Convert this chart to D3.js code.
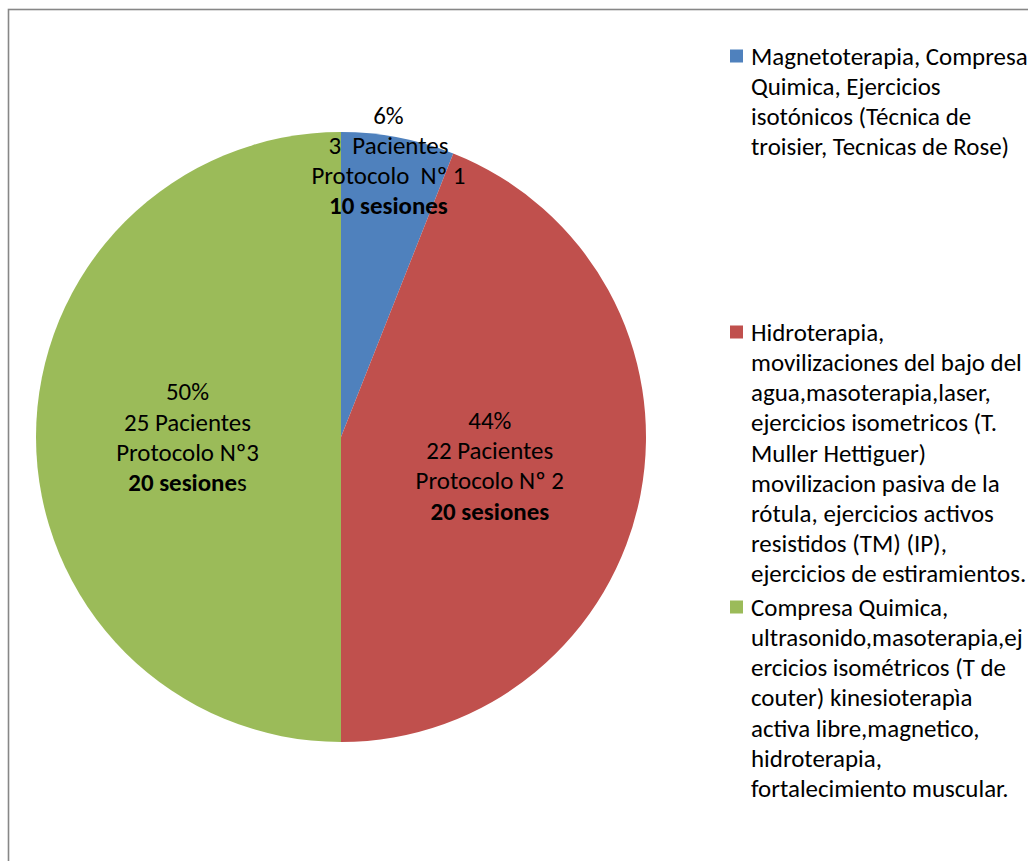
<!DOCTYPE html>
<html><head><meta charset="utf-8">
<script src="https://cdn.jsdelivr.net/npm/d3@7"></script>
<style>
html,body{margin:0;padding:0;background:#fff;}
svg{display:block;}
text{font-family:Carlito,Calibri,Lato,"Open Sans",sans-serif;fill:#000;}
</style></head><body>
<svg id="chart" width="1028" height="861"></svg>
<script>
// ---- data ----
const categories = ["Protocolo Nº 1", "Protocolo Nº 2", "Protocolo Nº3"];
const patients = [3, 22, 25];
const percentLabels = ["6%", "44%", "50%"];
const colors = ["#4F81BD", "#C0504D", "#9BBB59"];
const labelLines = [
  [["6%"], ["3  Pacientes"], ["Protocolo  Nº 1"], [["10 sesiones", true]]],
  [["44%"], ["22 Pacientes"], ["Protocolo Nº 2"], [["20 sesiones", true]]],
  [["50%"], ["25 Pacientes"], ["Protocolo Nº3"], [["20 sesione", true], ["s", false]]]
];
const legendLines = [
  ["Magnetoterapia, Compresa", "Quimica, Ejercicios", "isotónicos (Técnica de", "troisier, Tecnicas de Rose)"],
  ["Hidroterapia,", "movilizaciones del bajo del", "agua,masoterapia,laser,", "ejercicios isometricos (T.", "Muller Hettiguer)", "movilizacion pasiva de la", "rótula, ejercicios activos", "resistidos (TM) (IP),", "ejercicios de estiramientos."],
  ["Compresa Quimica,", "ultrasonido,masoterapia,ej", "ercicios isométricos (T de", "couter) kinesioterapìa", "activa libre,magnetico,", "hidroterapia,", "fortalecimiento muscular."]
];

const svg = d3.select("#chart");

// fit font size to reference width
const probe = svg.append("text").attr("font-size", 20).text("movilizaciones del bajo del");
const w20 = probe.node().getComputedTextLength();
probe.remove();
const fs = Math.max(16, Math.min(26, 20 * 271 / w20));

// frame
svg.append("rect").attr("x", 8.5).attr("y", 9.5).attr("width", 1100).attr("height", 1000)
  .attr("fill", "none").attr("stroke", "#878787").attr("stroke-width", 1.6);

// pie
const cx = 341, cy = 437, R = 305;
const pie = d3.pie().value(d => d).sort(null);
const arcs = pie(patients);
const arc = d3.arc().innerRadius(0).outerRadius(R);
const g = svg.append("g").attr("transform", `translate(${cx},${cy})`);
g.selectAll("path").data(arcs).join("path")
  .attr("d", arc).attr("fill", (d, i) => colors[i]);

const labelK = [0.9, 0.5, 0.5];
const nudge = [[-4, -7], [-1, 0], [-1, 0]];
const lineH = 30.2;
arcs.forEach((d, i) => {
  const la = d3.arc().innerRadius(R * labelK[i]).outerRadius(R * labelK[i]);
  let [lx, ly] = la.centroid(d);
  lx += nudge[i][0]; ly += nudge[i][1];
  const lines = labelLines[i];
  const top = ly - (lines.length - 1) * lineH / 2;
  lines.forEach((ln, j) => {
    const t = g.append("text").attr("x", lx).attr("y", top + j * lineH)
      .attr("dy", "0.35em").attr("text-anchor", "middle").attr("font-size", fs)
      .style("white-space", "pre").attr("xml:space", "preserve");
    ln.forEach(part => {
      if (Array.isArray(part)) {
        t.append("tspan").attr("font-weight", part[1] ? "bold" : "normal").text(part[0]);
      } else {
        t.append("tspan").text(part);
      }
    });
  });
});

// legend
const legY = [56, 332, 607];
const lg = svg.append("g");
legendLines.forEach((lines, i) => {
  lg.append("rect").attr("x", 730).attr("y", legY[i] - 6.5).attr("width", 13).attr("height", 13)
    .attr("fill", colors[i]);
  lines.forEach((l, j) => {
    lg.append("text").attr("x", 751).attr("y", legY[i] + j * lineH).attr("dy", "0.35em")
      .attr("font-size", fs).text(l);
  });
});
</script>
</body></html>
